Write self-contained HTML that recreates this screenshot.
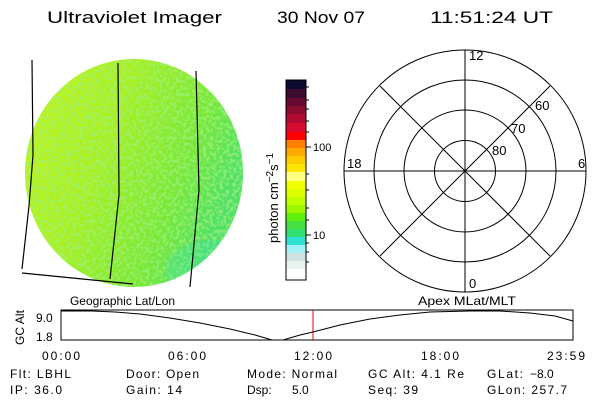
<!DOCTYPE html>
<html><head><style>
body{margin:0;background:#fff;}
svg{display:block;font-family:"Liberation Sans",sans-serif;}
</style></head><body>
<svg width="600" height="400" viewBox="0 0 600 400" xmlns="http://www.w3.org/2000/svg">
<defs>
<linearGradient id="g1" x1="0" y1="0" x2="1" y2="0.4">
<stop offset="0" stop-color="#c4f41c"/><stop offset="0.45" stop-color="#a8f020"/><stop offset="0.8" stop-color="#78e838"/><stop offset="1" stop-color="#50e068"/>
</linearGradient>
<filter id="nz" x="0" y="0" width="1" height="1">
<feTurbulence type="fractalNoise" baseFrequency="0.3" numOctaves="2" seed="3"/>
<feColorMatrix type="matrix" values="0 0 0 0 0.35  0 0 0 0 0.88  0 0 0 0 0.2  0 0 0 5 -2.2"/>
<feComposite in2="SourceGraphic" operator="in"/>
</filter>
<clipPath id="cc"><ellipse cx="134" cy="173" rx="109" ry="114"/></clipPath>
</defs>
<rect width="600" height="400" fill="#fff"/>
<g font-size="17" fill="#000">
<text x="47" y="23" textLength="175" lengthAdjust="spacingAndGlyphs">Ultraviolet Imager</text>
<text x="277" y="23" textLength="88" lengthAdjust="spacingAndGlyphs">30 Nov 07</text>
<text x="430" y="23" textLength="123" lengthAdjust="spacingAndGlyphs">11:51:24 UT</text>
</g>
<!-- globe -->
<ellipse cx="134" cy="173" rx="109" ry="114" fill="url(#g1)"/>
<g clip-path="url(#cc)">
<rect x="20" y="55" width="230" height="240" fill="#fff" filter="url(#nz)" opacity="0.7"/>
<ellipse cx="215" cy="270" rx="50" ry="30" fill="#40e0b0" opacity="0.3"/>
</g>
<g fill="none" stroke="#000" stroke-width="1.2">
<polyline points="32,60 33,155 29,206 22,269"/>
<polyline points="22,273 133,284"/>
<polyline points="118,63 119,195 110,279"/>
<polyline points="196,71 199,190 190,287"/>
</g>
<!-- colorbar -->
<g>
<rect x="286" y="80" width="20" height="9.5" fill="#0c0c30"/>
<rect x="286" y="89" width="20" height="9" fill="#3c0c30"/>
<rect x="286" y="98" width="20" height="8" fill="#680a30"/>
<rect x="286" y="106" width="20" height="8.5" fill="#8a0a30"/>
<rect x="286" y="114" width="20" height="9" fill="#b00a32"/>
<rect x="286" y="123" width="20" height="9" fill="#d80a30"/>
<rect x="286" y="132" width="20" height="8.5" fill="#ff0000"/>
<rect x="286" y="140" width="20" height="8.5" fill="#ff8000"/>
<rect x="286" y="148" width="20" height="8" fill="#ffaa00"/>
<rect x="286" y="156" width="20" height="8.5" fill="#ffcc00"/>
<rect x="286" y="164" width="20" height="8.5" fill="#ffe600"/>
<rect x="286" y="172" width="20" height="9" fill="#ffff80"/>
<rect x="286" y="181" width="20" height="8.5" fill="#f2ff00"/>
<rect x="286" y="189" width="20" height="8.5" fill="#dcff00"/>
<rect x="286" y="197" width="20" height="8.5" fill="#c0ff00"/>
<rect x="286" y="205" width="20" height="8.5" fill="#9cf800"/>
<rect x="286" y="213" width="20" height="8.5" fill="#60f010"/>
<rect x="286" y="221" width="20" height="8.5" fill="#44e040"/>
<rect x="286" y="229" width="20" height="8.5" fill="#30e070"/>
<rect x="286" y="237" width="20" height="8.5" fill="#30e0d0"/>
<rect x="286" y="245" width="20" height="8.5" fill="#a0f0f8"/>
<rect x="286" y="253" width="20" height="8.5" fill="#d0e2e2"/>
<rect x="286" y="261" width="20" height="8.5" fill="#e8f4ee"/>
<rect x="286" y="269" width="20" height="11" fill="#fff"/>
<rect x="286" y="80" width="20" height="200" fill="none" stroke="#000" stroke-width="1"/>
<g stroke="#000" stroke-width="1">
<line x1="306" y1="147" x2="311" y2="147"/><line x1="306" y1="235" x2="311" y2="235"/>
<line x1="306" y1="87" x2="309" y2="87"/><line x1="306" y1="100" x2="309" y2="100"/><line x1="306" y1="109" x2="309" y2="109"/><line x1="306" y1="121" x2="309" y2="121"/><line x1="306" y1="132" x2="309" y2="132"/>
<line x1="306" y1="174" x2="309" y2="174"/><line x1="306" y1="190" x2="309" y2="190"/><line x1="306" y1="208" x2="309" y2="208"/><line x1="306" y1="220" x2="309" y2="220"/>
<line x1="306" y1="243" x2="309" y2="243"/><line x1="306" y1="252" x2="309" y2="252"/><line x1="306" y1="262" x2="309" y2="262"/>
</g>
<text x="313" y="151" font-size="11">100</text>
<text x="313" y="239" font-size="11">10</text>
<text transform="translate(278,243) rotate(-90)" font-size="13">photon cm<tspan dy="-5" font-size="10">−2</tspan><tspan dy="5">s</tspan><tspan dy="-5" font-size="10">−1</tspan></text>
</g>
<!-- polar -->
<g fill="none" stroke="#000" stroke-width="1">
<circle cx="465" cy="171" r="121"/><circle cx="465" cy="171" r="91"/><circle cx="465" cy="171" r="61"/><circle cx="465" cy="171" r="30.5"/>
<line x1="344" y1="171" x2="586" y2="171"/><line x1="465" y1="50" x2="465" y2="292"/>
<line x1="380" y1="86" x2="550" y2="256"/><line x1="380" y1="256" x2="550" y2="86"/>
</g>
<g font-size="13" fill="#000">
<text x="469" y="60">12</text><text x="469" y="288">0</text>
<text x="347" y="168">18</text><text x="578" y="168">6</text>
<text x="535" y="110">60</text><text x="511" y="133">70</text><text x="492" y="155">80</text>
</g>
<!-- timeline -->
<g font-size="12" fill="#000">
<text x="70" y="305" textLength="105" lengthAdjust="spacingAndGlyphs">Geographic Lat/Lon</text>
<text x="418" y="305" textLength="98" lengthAdjust="spacingAndGlyphs">Apex MLat/MLT</text>
<text x="36" y="322">9.0</text><text x="36" y="341">1.8</text>
<text transform="translate(24,345) rotate(-90)" textLength="35">GC Alt</text>
<text x="61" y="360" text-anchor="middle" textLength="38">00:00</text>
<text x="187" y="360" text-anchor="middle" textLength="38">06:00</text>
<text x="313" y="360" text-anchor="middle" textLength="38">12:00</text>
<text x="440" y="360" text-anchor="middle" textLength="38">18:00</text>
<text x="566" y="360" text-anchor="middle" textLength="38">23:59</text>
</g>
<rect x="61" y="310" width="512" height="30" fill="none" stroke="#000" stroke-width="1"/>
<line x1="313" y1="310" x2="313" y2="340" stroke="#e00" stroke-width="1"/>
<polyline fill="none" stroke="#000" stroke-width="1" points="61,311 92,311 115,312 140,314 170,318 200,323 230,329 255,335 272,340 283,340 300,335 313,332 340,325 370,319 400,315 430,312 470,311 500,311 530,313 555,316 573,321"/>
<g font-size="12" fill="#000">
<text x="10" y="378" textLength="61">Flt: LBHL</text><text x="10" y="394" textLength="52">IP: 36.0</text>
<text x="126" y="378" textLength="73">Door: Open</text><text x="126" y="394" textLength="56">Gain: 14</text>
<text x="247" y="378" textLength="90">Mode: Normal</text><text x="247" y="394">Dsp:</text><text x="292" y="394">5.0</text>
<text x="368" y="378" textLength="96">GC Alt: 4.1 Re</text><text x="368" y="394" textLength="50">Seq: 39</text>
<text x="487" y="378" textLength="36">GLat:</text><text x="530" y="378">−8.0</text><text x="487" y="394" textLength="80">GLon: 257.7</text>
</g>
</svg>
</body></html>
